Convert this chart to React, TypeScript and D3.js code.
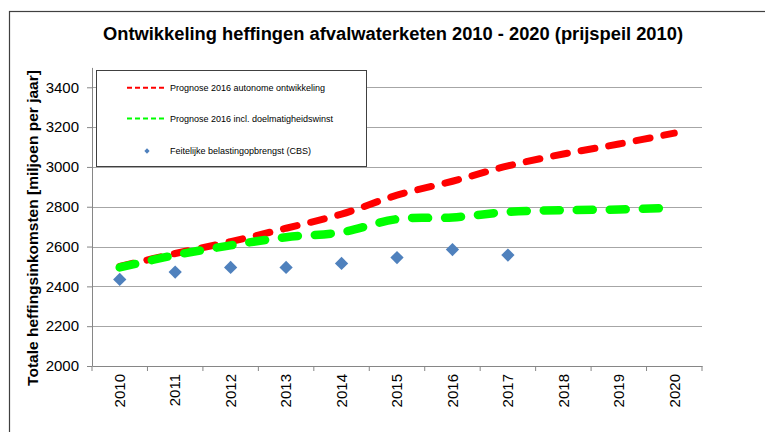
import React, { useEffect, useRef } from "react";
import * as d3 from "d3";

const years = ["2010", "2011", "2012", "2013", "2014", "2015", "2016", "2017", "2018", "2019", "2020"];
const autonoom = [2500, 2565, 2625, 2692, 2763, 2858, 2928, 3005, 3065, 3115, 3170];
const doelmatig = [2495, 2557, 2606, 2647, 2672, 2738, 2746, 2774, 2783, 2786, 2795];
const cbsYears = ["2010", "2011", "2012", "2013", "2014", "2015", "2016", "2017"];
const cbs = [2435, 2472, 2495, 2495, 2515, 2545, 2585, 2557];
const yTicks = [2000, 2200, 2400, 2600, 2800, 3000, 3200, 3400];

const TITLE = "Ontwikkeling heffingen afvalwaterketen 2010 - 2020 (prijspeil 2010)";
const Y_TITLE = "Totale heffingsinkomsten [miljoen per jaar]";
const LEGEND = [
  "Prognose 2016 autonome ontwikkeling",
  "Prognose 2016 incl. doelmatigheidswinst",
  "Feitelijke belastingopbrengst (CBS)",
];

const WIDTH = 765;
const HEIGHT = 432;
const PLOT = { LEFT: 92, RIGHT: 702, TOP: 67.4, BOTTOM: 366 };
const FONT = "'Liberation Sans', Arial, sans-serif";

const App = () => {
  const svgRef = useRef<SVGSVGElement>(null);

  useEffect(() => {
    const svg = d3.select(svgRef.current);
    svg.selectAll("*").remove();

    const x = d3.scaleBand().domain(years).range([PLOT.LEFT, PLOT.RIGHT]);
    const y = d3.scaleLinear().domain([2000, 3500]).range([PLOT.BOTTOM, PLOT.TOP]);
    const cx = (d: string) => (x(d) as number) + x.bandwidth() / 2;

    // outer frame
    svg
      .append("rect")
      .attr("x", 9.5)
      .attr("y", 11.5)
      .attr("width", 800)
      .attr("height", 500)
      .attr("fill", "#fff")
      .attr("stroke", "#404040")
      .attr("stroke-width", 1.2);

    svg
      .append("text")
      .attr("x", 393)
      .attr("y", 40)
      .attr("text-anchor", "middle")
      .attr("font-family", FONT)
      .attr("font-weight", "bold")
      .attr("font-size", 18)
      .attr("textLength", 580)
      .attr("lengthAdjust", "spacingAndGlyphs")
      .text(TITLE);

    // gridlines
    svg
      .append("g")
      .selectAll("line")
      .data(yTicks.slice(1))
      .join("line")
      .attr("x1", PLOT.LEFT)
      .attr("x2", PLOT.RIGHT)
      .attr("y1", (d) => Math.round(y(d)) + 0.5)
      .attr("y2", (d) => Math.round(y(d)) + 0.5)
      .attr("stroke", "#a6a6a6")
      .attr("stroke-width", 1);

    // y axis
    const yAxis = svg
      .append("g")
      .attr("transform", `translate(${PLOT.LEFT},0)`)
      .call(
        d3
          .axisLeft(y)
          .tickValues(yTicks)
          .tickFormat(d3.format("d"))
          .tickSize(5)
          .tickPadding(8)
          .tickSizeOuter(0)
      );
    yAxis.select(".domain").attr("stroke", "#868686");
    yAxis.selectAll(".tick line").attr("stroke", "#868686");
    yAxis
      .selectAll(".tick text")
      .attr("font-family", FONT)
      .attr("font-size", 15)
      .attr("fill", "#000");

    // x axis
    const xAxis = svg
      .append("g")
      .attr("transform", `translate(0,${PLOT.BOTTOM})`)
      .call(d3.axisBottom(x).tickSize(0).tickSizeOuter(0));
    xAxis.select(".domain").attr("stroke", "#868686");
    xAxis
      .selectAll(".tick text")
      .attr("font-family", FONT)
      .attr("font-size", 15)
      .attr("fill", "#000")
      .attr("text-anchor", "end")
      .attr("transform", "rotate(-90)")
      .attr("x", -8)
      .attr("y", 0)
      .attr("dy", "0.35em");
    svg
      .append("g")
      .selectAll("line")
      .data(years.concat(["end"]))
      .join("line")
      .attr("x1", (d, i) => PLOT.LEFT + i * x.bandwidth())
      .attr("x2", (d, i) => PLOT.LEFT + i * x.bandwidth())
      .attr("y1", PLOT.BOTTOM)
      .attr("y2", PLOT.BOTTOM + 5)
      .attr("stroke", "#868686");

    // y axis title
    svg
      .append("text")
      .attr("transform", `translate(38,228) rotate(-90)`)
      .attr("text-anchor", "middle")
      .attr("font-family", FONT)
      .attr("font-weight", "bold")
      .attr("font-size", 15.5)
      .text(Y_TITLE);

    const line = d3
      .line<number>()
      .x((d, i) => cx(years[i]))
      .y((d) => y(d))
      .curve(d3.curveCatmullRom);

    svg
      .append("path")
      .attr("d", line(autonoom))
      .attr("fill", "none")
      .attr("stroke", "#ff0000")
      .attr("stroke-width", 7)
      .attr("stroke-linecap", "round")
      .attr("stroke-dasharray", "14 14");

    svg
      .append("path")
      .attr("d", line(doelmatig))
      .attr("fill", "none")
      .attr("stroke", "#00ff00")
      .attr("stroke-width", 8.5)
      .attr("stroke-linecap", "round")
      .attr("stroke-dasharray", "16 17");

    const diamond = d3.symbol().type(d3.symbolSquare).size(88);
    svg
      .append("g")
      .selectAll("path")
      .data(cbs)
      .join("path")
      .attr("d", diamond())
      .attr("transform", (d, i) => `translate(${cx(cbsYears[i])},${y(d)}) rotate(45)`)
      .attr("fill", "#4f81bd");

    // legend
    const lg = svg.append("g");
    lg.append("rect")
      .attr("x", 96.5)
      .attr("y", 70.5)
      .attr("width", 270)
      .attr("height", 96)
      .attr("fill", "#fff")
      .attr("stroke", "#404040");
    const rows = [87.7, 118.5, 151];
    lg.append("line")
      .attr("x1", 127)
      .attr("x2", 167)
      .attr("y1", rows[0])
      .attr("y2", rows[0])
      .attr("stroke", "#ff0000")
      .attr("stroke-width", 2)
      .attr("stroke-dasharray", "5 3");
    lg.append("line")
      .attr("x1", 127)
      .attr("x2", 167)
      .attr("y1", rows[1])
      .attr("y2", rows[1])
      .attr("stroke", "#00ff00")
      .attr("stroke-width", 2)
      .attr("stroke-dasharray", "5 3");
    lg.append("path")
      .attr("d", d3.symbol().type(d3.symbolSquare).size(14)())
      .attr("transform", `translate(147,${rows[2]}) rotate(45)`)
      .attr("fill", "#4f81bd");
    lg.selectAll("text")
      .data(LEGEND)
      .join("text")
      .attr("x", 170)
      .attr("y", (d, i) => rows[i])
      .attr("dy", "0.35em")
      .attr("font-family", FONT)
      .attr("font-size", 9)
      .text((d) => d);
  }, []);

  return (
    <svg
      ref={svgRef}
      width={WIDTH}
      height={HEIGHT}
      style={{ position: "absolute", left: 0, top: 0, background: "#fff" }}
    ></svg>
  );
};

export default App;
